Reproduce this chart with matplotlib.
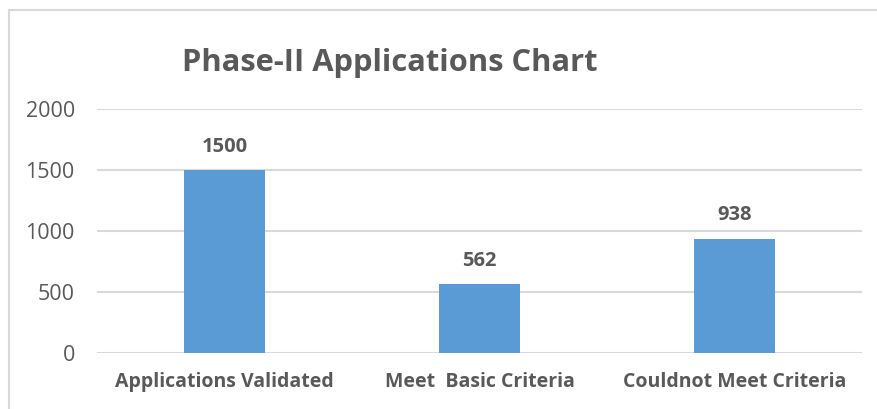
import matplotlib.pyplot as plt
from matplotlib.patches import Rectangle

categories = ['Applications Validated', 'Meet  Basic Criteria', 'Couldnot Meet Criteria']
counts = [1500, 562, 938]
y_ticks = [0, 500, 1000, 1500, 2000]

plt.rcParams['font.family'] = ['Open Sans', 'DejaVu Sans']
text_color = '#595959'
bar_color = '#5B9BD5'

fig = plt.figure(figsize=(8.78, 4.09), dpi=100)
ax = fig.add_axes([0.1105, 0.1369, 0.8713, 0.5966])

# chart border (only left and top edges are visible in the crop)
fig.patches.append(Rectangle((9 / 878, -0.1), 1.2, 1 - 10 / 409 + 0.1,
                             transform=fig.transFigure, fill=False,
                             edgecolor='#D9D9D9', linewidth=1.5))

x = range(len(categories))
bars = ax.bar(x, counts, width=0.314, color=bar_color, zorder=3)

for b, v in zip(bars, counts):
    ax.text(b.get_x() + b.get_width() / 2, v + 110, str(v), ha='center', va='bottom',
            fontsize=14.5, fontweight='bold', color=text_color)

ax.set_xlim(-0.5, len(categories) - 0.5)
ax.set_ylim(0, 2000)
ax.set_yticks(y_ticks)
ax.set_xticks(list(x))
ax.set_xticklabels(categories, fontsize=14, fontweight='bold', color=text_color)
ax.tick_params(axis='y', labelsize=15.5, labelcolor=text_color, length=0, pad=16)
ax.tick_params(axis='x', length=0, pad=14)
ax.grid(axis='y', color='#D9D9D9', linewidth=1.5, zorder=0)
for s in ax.spines.values():
    s.set_visible(False)

fig.text(390 / 878, 1 - 63 / 409, 'Phase-II Applications Chart', ha='center', va='center',
         fontsize=22.2, fontweight='bold', color=text_color)

fig.savefig('out.png', dpi=100)
